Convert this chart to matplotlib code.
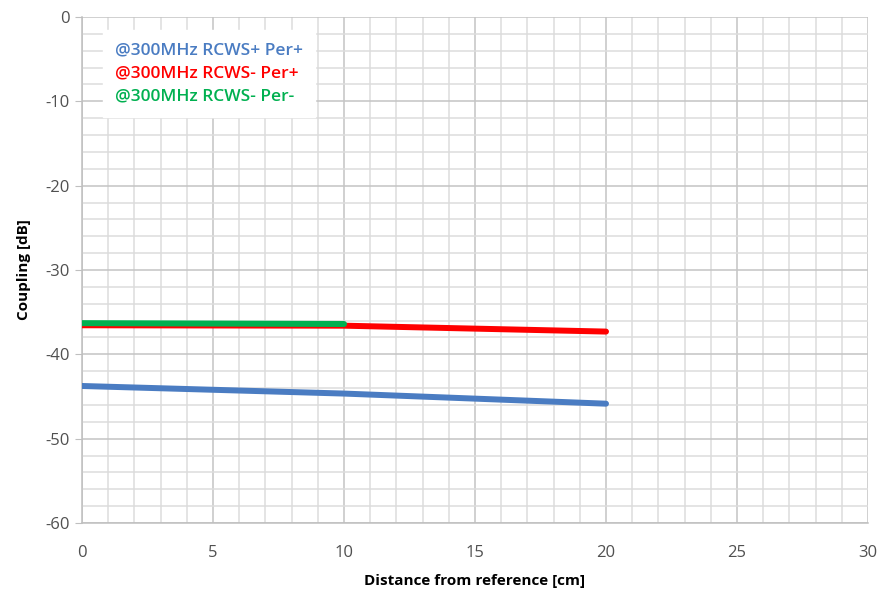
import matplotlib
matplotlib.use("Agg")
import matplotlib.pyplot as plt
from matplotlib.ticker import MultipleLocator

# Coupling versus distance at 300 MHz
dist_a = [0, 10, 20]
rcws_plus_per_plus = [-43.75, -44.65, -45.85]
rcws_minus_per_plus = [-36.55, -36.6, -37.3]
dist_b = [0, 10]
rcws_minus_per_minus = [-36.3, -36.4]

labels = ["@300MHz RCWS+ Per+", "@300MHz RCWS- Per+", "@300MHz RCWS- Per-"]
colors = ["#4A7CC2", "#FF0000", "#00B050"]

x_ticks = [0, 5, 10, 15, 20, 25, 30]
y_ticks = [0, -10, -20, -30, -40, -50, -60]

plt.rcParams["font.family"] = ["Open Sans", "DejaVu Sans"]
plt.rcParams["axes.unicode_minus"] = False

fig = plt.figure(figsize=(8.83, 5.93), dpi=100)
ax = fig.add_axes([0.0929, 0.1180, 0.8901, 0.8533])

lw = 4.3
ax.plot(dist_a, rcws_plus_per_plus, color=colors[0], lw=lw, solid_capstyle="round", label=labels[0], zorder=3)
ax.plot(dist_a, rcws_minus_per_plus, color=colors[1], lw=lw, solid_capstyle="round", label=labels[1], zorder=3)
ax.plot(dist_b, rcws_minus_per_minus, color=colors[2], lw=lw, solid_capstyle="round", label=labels[2], zorder=4)

ax.set_xlim(0, 30)
ax.set_ylim(-60, 0)
ax.set_xticks(x_ticks)
ax.set_yticks(y_ticks)
ax.xaxis.set_minor_locator(MultipleLocator(1))
ax.yaxis.set_minor_locator(MultipleLocator(2))

ax.grid(which="major", color="#C4C4C4", lw=1.1, zorder=0)
ax.grid(which="minor", color="#DCDCDC", lw=1.1, zorder=0)
ax.set_axisbelow(True)

for s in ["top", "right"]:
    ax.spines[s].set_visible(False)
for s in ["left", "bottom"]:
    ax.spines[s].set_color("#BFBFBF")
    ax.spines[s].set_linewidth(1.1)

ax.tick_params(axis="y", which="major", length=5, color="#BFBFBF", labelsize=12,
               labelcolor="#505050", pad=4)
ax.tick_params(axis="x", which="major", length=0, labelsize=12, labelcolor="#505050", pad=16)
ax.tick_params(which="minor", length=0)

ax.set_xlabel("Distance from reference [cm]", fontsize=11, fontweight="bold", color="#000000", labelpad=9)
ax.set_ylabel("Coupling [dB]", fontsize=11, fontweight="bold", color="#000000", labelpad=10)

leg = ax.legend(loc="upper left", bbox_to_anchor=(0.0267, 0.974), frameon=True,
                handlelength=0, handletextpad=0, labelcolor="linecolor",
                prop={"size": 12.5, "weight": "semibold"}, borderpad=0.7,
                labelspacing=0.4, fancybox=False, borderaxespad=0)
leg.get_frame().set_facecolor("white")
leg.get_frame().set_edgecolor("white")
leg.get_frame().set_alpha(1.0)
for h in leg.legend_handles:
    h.set_visible(False)

fig.savefig("out.png", dpi=100)
